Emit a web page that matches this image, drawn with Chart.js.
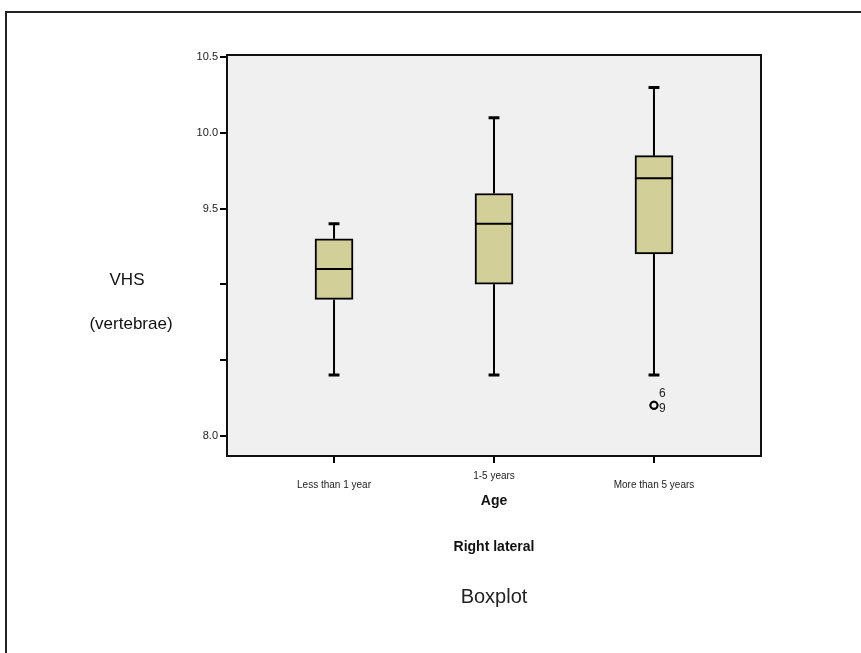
<!DOCTYPE html>
<html>
<head>
<meta charset="utf-8">
<script src="https://cdn.jsdelivr.net/npm/chart.js@4.4.1/dist/chart.umd.min.js"></script>
<style>
  html, body { margin: 0; padding: 0; background: #fff; }
  #wrap { position: relative; width: 861px; height: 653px; }
</style>
</head>
<body>
<div id="wrap"><canvas id="canvas" width="861" height="653"></canvas></div>
<script>
// values
const categories = ['Less than 1 year', '1-5 years', 'More than 5 years'];
const mins    = [8.40, 8.40, 8.40];
const q1s     = [8.90, 9.00, 9.20];
const medians = [9.10, 9.40, 9.70];
const q3s     = [9.30, 9.60, 9.85];
const maxs    = [9.40, 10.10, 10.30];
const outliers   = [[], [], [8.20, 8.20]];
const outlierIds = [[], [], ['6', '9']];
const yTicks      = [8.0, 8.5, 9.0, 9.5, 10.0, 10.5];
const yTickLabels = ['8.0', '', '', '9.5', '10.0', '10.5'];

const FONT = 'Arial, "Liberation Sans", sans-serif';
const boxHalf = 0.119;   // half box width in x units (38px)
const capHalf = 0.034;

const xs = categories.map((c, i) => i + 1);

const boxData = xs.map((x, i) => ({ x: x, y: [q1s[i], q3s[i]] }));

const whiskerData = [];
const capData = [];
const medianData = [];
xs.forEach((x, i) => {
  whiskerData.push({x: x, y: maxs[i]}, {x: x, y: q3s[i]}, {x: x, y: null},
                   {x: x, y: q1s[i]}, {x: x, y: mins[i]}, {x: x, y: null});
  capData.push({x: x - capHalf, y: maxs[i]}, {x: x + capHalf, y: maxs[i]}, {x: x, y: null},
               {x: x - capHalf, y: mins[i]}, {x: x + capHalf, y: mins[i]}, {x: x, y: null});
  medianData.push({x: x - boxHalf, y: medians[i]}, {x: x + boxHalf, y: medians[i]}, {x: x, y: null});
});

const outlierData = [];
xs.forEach((x, i) => outliers[i].forEach(v => outlierData.push({x: x, y: v})));

const framePlugin = {
  id: 'frame',
  beforeDraw(chart) {
    const {ctx, chartArea: a} = chart;
    ctx.save();
    ctx.fillStyle = '#f0f0f0';
    ctx.fillRect(a.left, a.top, a.right - a.left, a.bottom - a.top);
    ctx.restore();
  },
  afterDraw(chart) {
    const {ctx, chartArea: a, scales} = chart;
    ctx.save();
    ctx.strokeStyle = '#111';
    ctx.lineWidth = 2;
    ctx.strokeRect(a.left, a.top, a.right - a.left, a.bottom - a.top);
    // outer page frame
    ctx.strokeStyle = '#222';
    ctx.strokeRect(6, 12, 1000, 1000);

    ctx.fillStyle = '#111';
    ctx.textAlign = 'center';
    ctx.textBaseline = 'middle';
    ctx.font = '17px ' + FONT;
    ctx.fillText('VHS', 127, 280);
    ctx.fillText('(vertebrae)', 131, 324);
    ctx.font = 'bold 14px ' + FONT;
    ctx.fillText('Age', (a.left + a.right) / 2, 501);
    ctx.font = 'bold 14px ' + FONT;
    ctx.fillText('Right lateral', (a.left + a.right) / 2, 547);
    ctx.fillStyle = '#222';
    ctx.font = '20px ' + FONT;
    ctx.fillText('Boxplot', (a.left + a.right) / 2, 597);

    // outlier case numbers
    ctx.fillStyle = '#222';
    ctx.font = '12px ' + FONT;
    ctx.textAlign = 'left';
    xs.forEach((x, i) => {
      outliers[i].forEach((v, k) => {
        const px = scales.x.getPixelForValue(x);
        const py = scales.y.getPixelForValue(v);
        ctx.fillText(outlierIds[i][k], px + 5, k === 0 ? py - 12 : py + 3);
      });
    });
    ctx.restore();
  }
};

new Chart(document.getElementById('canvas').getContext('2d'), {
  type: 'bar',
  data: {
    datasets: [
      {
        type: 'line', data: medianData, borderColor: '#000', borderWidth: 2,
        pointRadius: 0, spanGaps: false, order: 0
      },
      {
        type: 'bar', data: boxData, backgroundColor: '#d3cf98', borderColor: '#000',
        borderWidth: 2, borderSkipped: false, barThickness: 38, order: 2
      },
      {
        type: 'line', data: whiskerData, borderColor: '#000', borderWidth: 2,
        pointRadius: 0, spanGaps: false, order: 1
      },
      {
        type: 'line', data: capData, borderColor: '#000', borderWidth: 3,
        pointRadius: 0, spanGaps: false, order: 1
      },
      {
        type: 'scatter', data: outlierData, pointStyle: 'circle', pointRadius: 3.5,
        borderColor: '#000', borderWidth: 2, backgroundColor: '#f0f0f0', order: 0
      }
    ]
  },
  options: {
    responsive: false,
    animation: false,
    layout: { padding: { left: 0, top: 55, right: 100, bottom: 0 } },
    plugins: { legend: { display: false }, tooltip: { enabled: false } },
    scales: {
      x: {
        type: 'linear', min: 0.331, max: 3.669, offset: false,
        afterFit(scale) { scale.height = 197; },
        afterBuildTicks(scale) { scale.ticks = xs.map(v => ({ value: v })); },
        grid: { offset: false, drawOnChartArea: false, drawTicks: true, tickLength: 7, tickColor: '#000', tickWidth: 2, lineWidth: 2 },
        border: { display: true, color: '#000', width: 2 },
        ticks: {
          padding: 9, color: '#222', maxRotation: 0, autoSkip: false,
          font: { family: FONT, size: 10, lineHeight: 0.9 },
          callback(v) {
            const i = Math.round(v) - 1;
            return i === 1 ? categories[i] : ['', categories[i]];
          }
        }
      },
      y: {
        type: 'linear', min: 7.865, max: 10.515,
        afterFit(scale) { scale.width = 227; },
        afterBuildTicks(scale) { scale.ticks = yTicks.map(v => ({ value: v })); },
        grid: { drawOnChartArea: false, drawTicks: true, tickLength: 7, tickColor: '#000', tickWidth: 2, lineWidth: 2 },
        border: { display: true, color: '#000', width: 2 },
        ticks: {
          padding: 2, color: '#222',
          font: { family: FONT, size: 11 },
          callback(v, idx) { return yTickLabels[idx]; }
        }
      }
    }
  },
  plugins: [framePlugin]
});
</script>
</body>
</html>
